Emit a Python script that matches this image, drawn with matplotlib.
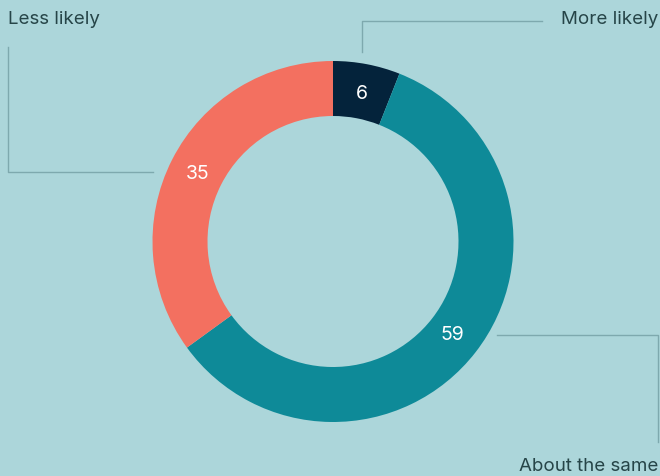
import matplotlib.pyplot as plt

# Survey answers (share of respondents)
categories = ['More likely', 'About the same', 'Less likely']
values = [6, 59, 35]
colors = ['#04233b', '#0e8a98', '#f37060']

bg = '#acd6da'
line_col = '#7ea9ae'
text_col = '#264548'

W, H = 660, 477
fig = plt.figure(figsize=(W / 100, H / 100), dpi=100, facecolor=bg)
ax = fig.add_axes([0, 0, 1, 1])
ax.set_facecolor(bg)

def Y(y):
    # convert from top-down pixel coords
    return H - y

wedges, _, autotexts = ax.pie(
    values, colors=colors, startangle=90, counterclock=False,
    center=(333, Y(242.5)), radius=180.5, frame=True,
    wedgeprops=dict(width=55, linewidth=0),
    autopct=lambda p: f'{p * sum(values) / 100:.0f}', pctdistance=0.84,
    textprops=dict(color='white', fontsize=14, family='Inter'))
ax.set_xlim(0, W)
ax.set_ylim(0, H)
ax.set_aspect('equal')
ax.axis('off')

lk = dict(color=line_col, lw=1)
tk = dict(fontsize=13.5, color=text_col, family='Inter')
# More likely
ax.plot([362, 362, 542], [Y(53), Y(22), Y(22)], **lk)
ax.text(658, Y(20), categories[0], ha='right', va='center', **tk)
# Less likely
ax.plot([8, 8, 153], [Y(48), Y(173), Y(173)], **lk)
ax.text(8, Y(20), categories[2], ha='left', va='center', **tk)
# About the same
ax.plot([497, 658, 658], [Y(336), Y(336), Y(443)], **lk)
ax.text(658, Y(467), categories[1], ha='right', va='center', **tk)

fig.savefig('out.png', dpi=100, facecolor=bg)
